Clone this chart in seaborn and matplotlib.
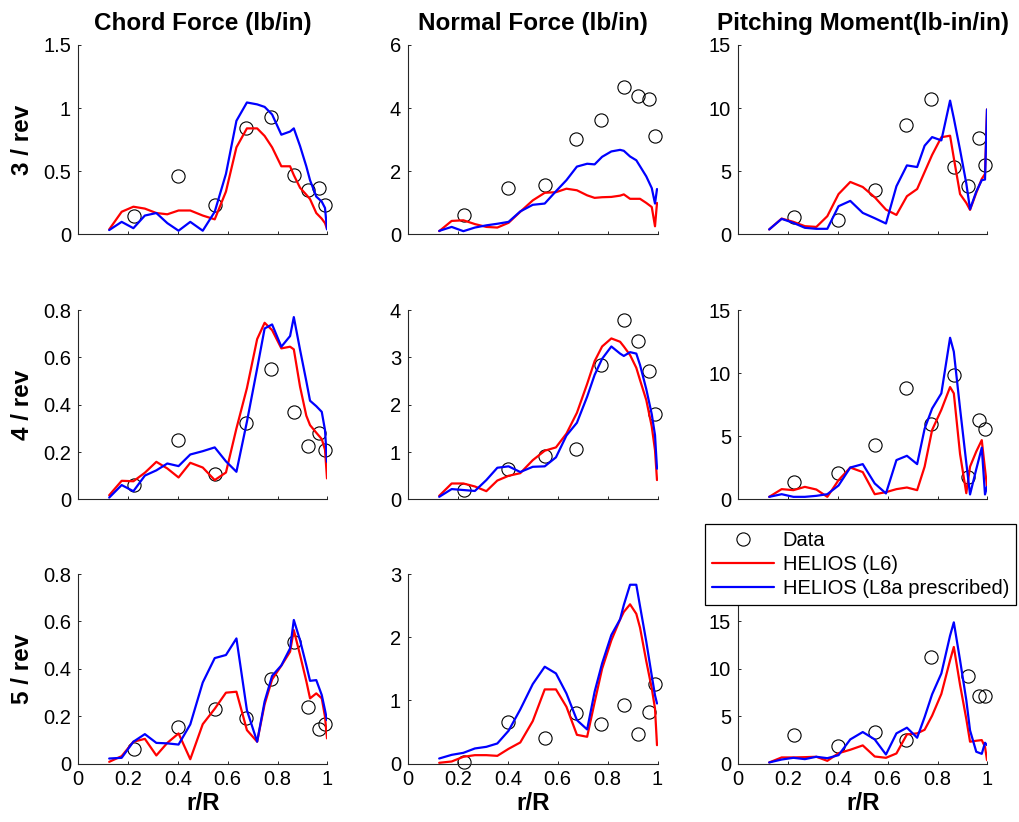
import numpy as np
import matplotlib
matplotlib.use("Agg")
import matplotlib.pyplot as plt
import seaborn as sns
from matplotlib.lines import Line2D
from matplotlib.ticker import FuncFormatter

# ---------------- data ----------------
r_sim = [0.125, 0.175, 0.222, 0.268, 0.314, 0.358, 0.403, 0.450, 0.500, 0.548,
         0.593, 0.635, 0.677, 0.718, 0.748, 0.778, 0.815, 0.850, 0.865, 0.890,
         0.915, 0.930, 0.955, 0.977, 0.990, 0.998]
r_data = [0.225, 0.40, 0.55, 0.675, 0.775, 0.865, 0.92, 0.965, 0.99]

col_titles = ["Chord Force (lb/in)", "Normal Force (lb/in)", "Pitching Moment(lb-in/in)"]
row_labels = ["3 / rev", "4 / rev", "5 / rev"]
legend_labels = ["Data", "HELIOS (L6)", "HELIOS (L8a prescribed)"]

# 3/rev
chord3_data = [0.15, 0.46, 0.23, 0.84, 0.93, 0.47, 0.35, 0.37, 0.23]
chord3_l6 = [0.04, 0.18, 0.22, 0.205, 0.17, 0.16, 0.19, 0.19, 0.15, 0.12, 0.34, 0.69, 0.84,
             0.84, 0.78, 0.69, 0.54, 0.54, 0.47, 0.37, 0.315, 0.28, 0.17, 0.125, 0.09, 0.045]
chord3_l8 = [0.035, 0.10, 0.05, 0.15, 0.17, 0.09, 0.03, 0.10, 0.03, 0.18, 0.48, 0.90, 1.045,
             1.03, 1.01, 0.95, 0.79, 0.815, 0.84, 0.70, 0.54, 0.43, 0.30, 0.26, 0.21, 0.04]
normal3_data = [0.61, 1.48, 1.57, 3.03, 3.64, 4.66, 4.40, 4.29, 3.13]
normal3_l6 = [0.105, 0.43, 0.45, 0.33, 0.24, 0.22, 0.37, 0.72, 1.08, 1.32, 1.34, 1.45, 1.40,
              1.24, 1.16, 1.18, 1.19, 1.23, 1.27, 1.13, 1.13, 1.13, 1.00, 0.87, 0.26, 1.00]
normal3_l8 = [0.115, 0.24, 0.105, 0.22, 0.29, 0.34, 0.40, 0.73, 0.94, 0.98, 1.37, 1.72, 2.15,
              2.24, 2.22, 2.46, 2.63, 2.68, 2.65, 2.47, 2.35, 2.16, 1.84, 1.47, 0.98, 1.44]
pitch3_data = [1.37, 1.18, 3.53, 8.63, 10.74, 5.34, 3.82, 7.63, 5.53]
pitch3_l6 = [0.4, 1.26, 1.0, 0.66, 0.6, 1.45, 3.2, 4.16, 3.76, 2.95, 1.97, 1.55, 3.03,
             3.6, 4.95, 6.3, 7.7, 7.82, 6.05, 3.2, 2.5, 1.95, 3.3, 4.4, 4.8, 9.9]
pitch3_l8 = [0.4, 1.24, 0.92, 0.53, 0.45, 0.45, 2.24, 2.66, 1.71, 1.29, 0.87, 3.82, 5.47,
             5.34, 7.03, 7.71, 7.45, 10.6, 9.2, 6.7, 4.05, 2.0, 3.4, 4.3, 4.35, 9.9]

# 4/rev
chord4_data = [0.061, 0.252, 0.108, 0.325, 0.551, 0.369, 0.225, 0.282, 0.208]
chord4_l6 = [0.018, 0.079, 0.077, 0.113, 0.159, 0.131, 0.093, 0.155, 0.135, 0.082, 0.114, 0.30, 0.47,
             0.677, 0.746, 0.715, 0.638, 0.645, 0.634, 0.476, 0.354, 0.314, 0.282, 0.255, 0.21, 0.089]
chord4_l8 = [0.008, 0.061, 0.035, 0.101, 0.123, 0.152, 0.141, 0.19, 0.204, 0.22, 0.161, 0.117, 0.328,
             0.553, 0.722, 0.739, 0.645, 0.69, 0.77, 0.632, 0.50, 0.417, 0.394, 0.37, 0.293, 0.159]
normal4_data = [0.20, 0.65, 0.92, 1.06, 2.84, 3.79, 3.35, 2.71, 1.80]
normal4_l6 = [0.077, 0.338, 0.338, 0.275, 0.176, 0.40, 0.50, 0.556, 0.83, 1.03, 1.10, 1.39, 1.83,
              2.44, 2.92, 3.23, 3.40, 3.33, 3.23, 3.05, 2.78, 2.52, 2.10, 1.54, 1.04, 0.41]
normal4_l8 = [0.056, 0.22, 0.20, 0.18, 0.41, 0.67, 0.70, 0.58, 0.69, 0.70, 0.89, 1.35, 1.62,
              2.17, 2.63, 2.97, 3.23, 3.08, 3.03, 3.11, 3.08, 2.84, 2.33, 1.80, 1.36, 0.65]
pitch4_data = [1.37, 2.06, 4.28, 8.79, 5.97, 9.85, 1.80, 6.28, 5.57]
pitch4_l6 = [0.21, 0.82, 0.74, 1.0, 0.79, 0.21, 1.53, 2.53, 2.17, 0.42, 0.58, 0.82, 0.95,
             0.74, 2.6, 5.5, 7.1, 8.9, 8.4, 3.6, 0.5, 2.6, 3.8, 4.7, 2.4, 1.05]
pitch4_l8 = [0.21, 0.42, 0.21, 0.21, 0.29, 0.42, 1.11, 2.53, 2.80, 1.27, 0.48, 3.12, 3.46,
             2.80, 5.6, 7.2, 8.4, 12.8, 11.7, 7.2, 2.9, 0.4, 2.4, 4.1, 0.4, 1.0]

# 5/rev
chord5_data = [0.063, 0.152, 0.228, 0.190, 0.355, 0.511, 0.239, 0.145, 0.165]
chord5_l6 = [0.007, 0.031, 0.092, 0.104, 0.034, 0.087, 0.127, 0.018, 0.166, 0.231, 0.299, 0.303, 0.141,
             0.092, 0.25, 0.355, 0.413, 0.472, 0.563, 0.458, 0.348, 0.275, 0.296, 0.275, 0.197, 0.106]
chord5_l8 = [0.021, 0.024, 0.092, 0.124, 0.087, 0.085, 0.080, 0.165, 0.342, 0.445, 0.458, 0.528, 0.225,
             0.092, 0.262, 0.37, 0.414, 0.486, 0.606, 0.52, 0.415, 0.349, 0.352, 0.289, 0.225, 0.183]
normal5_data = [0.016, 0.660, 0.407, 0.792, 0.618, 0.919, 0.465, 0.808, 1.252]
normal5_l6 = [0.011, 0.032, 0.106, 0.132, 0.132, 0.121, 0.232, 0.333, 0.671, 1.173, 1.173, 0.898, 0.454,
              0.423, 0.97, 1.50, 1.95, 2.28, 2.40, 2.52, 2.37, 2.15, 1.62, 1.19, 0.87, 0.29]
normal5_l8 = [0.079, 0.137, 0.169, 0.238, 0.264, 0.317, 0.518, 0.856, 1.257, 1.532, 1.426, 1.109, 0.687,
              0.539, 1.136, 1.585, 2.034, 2.282, 2.51, 2.83, 2.83, 2.49, 1.93, 1.39, 1.08, 0.95]
pitch5_data = [3.0, 1.87, 3.28, 2.47, 11.22, np.nan, 9.28, 7.17, 7.17]
pitch5_l6 = [0.11, 0.64, 0.64, 0.67, 0.71, 0.28, 1.09, 1.45, 1.91, 0.74, 0.60, 1.06, 3.07,
             3.18, 3.56, 5.05, 7.34, 10.9, 12.3, 8.3, 4.7, 2.3, 2.4, 2.47, 1.76, 0.35]
pitch5_l8 = [0.11, 0.42, 0.60, 0.46, 0.71, 0.56, 0.88, 2.54, 3.32, 2.54, 0.95, 3.18, 3.78,
             2.72, 4.9, 7.3, 9.5, 13.5, 14.9, 10.9, 6.7, 3.5, 1.24, 1.02, 2.19, 1.94]

x_ticks = [0, 0.2, 0.4, 0.6, 0.8, 1.0]
y_ticks = [
    [[0, 0.5, 1, 1.5], [0, 2, 4, 6], [0, 5, 10, 15]],
    [[0, 0.2, 0.4, 0.6, 0.8], [0, 1, 2, 3, 4], [0, 5, 10, 15]],
    [[0, 0.2, 0.4, 0.6, 0.8], [0, 1, 2, 3], [0, 5, 10, 15, 20]],
]

panels = [
    [(chord3_data, chord3_l6, chord3_l8), (normal3_data, normal3_l6, normal3_l8), (pitch3_data, pitch3_l6, pitch3_l8)],
    [(chord4_data, chord4_l6, chord4_l8), (normal4_data, normal4_l6, normal4_l8), (pitch4_data, pitch4_l6, pitch4_l8)],
    [(chord5_data, chord5_l6, chord5_l8), (normal5_data, normal5_l6, normal5_l8), (pitch5_data, pitch5_l6, pitch5_l8)],
]

# ---------------- style ----------------
sns.set_theme(style="white")
plt.rcParams['font.family'] = ['Liberation Sans', 'DejaVu Sans']
plt.rcParams['text.color'] = 'black'
plt.rcParams['axes.labelcolor'] = 'black'
plt.rcParams['axes.titlecolor'] = 'black'

RED = '#ff0000'
BLUE = '#0000ff'
AXC = '#262626'

W, H = 1020, 822
fig = plt.figure(figsize=(W / 100, H / 100), dpi=100)

lefts = [78, 408, 738]
tops = [45, 310, 574]
aw, ah = 249.5, 189.5

fmt = FuncFormatter(lambda v, p: f"{v:g}")

for i in range(3):
    for j in range(3):
        ax = fig.add_axes([lefts[j] / W, 1 - (tops[i] + ah) / H, aw / W, ah / H])
        dat, l6, l8 = panels[i][j]
        sns.lineplot(x=r_data, y=dat, ax=ax, color='black', marker='o', linestyle='none',
                     markerfacecolor='none', markeredgecolor='black', markersize=9.5,
                     markeredgewidth=0.8, estimator=None, sort=False, legend=False,
                     clip_on=False)
        sns.lineplot(x=r_sim, y=l6, ax=ax, color=RED, lw=1.6, estimator=None,
                     sort=False, errorbar=None, legend=False)
        sns.lineplot(x=r_sim, y=l8, ax=ax, color=BLUE, lw=1.6, estimator=None,
                     sort=False, errorbar=None, legend=False)
        yt = y_ticks[i][j]
        ax.set_xlim(0, 1)
        ax.set_ylim(yt[0], yt[-1])
        ax.set_xticks(x_ticks)
        ax.set_yticks(yt)
        ax.xaxis.set_major_formatter(fmt)
        ax.yaxis.set_major_formatter(fmt)
        ax.set_xlabel('')
        ax.set_ylabel('')
        for s in ['top', 'right']:
            ax.spines[s].set_visible(False)
        for s in ['left', 'bottom']:
            ax.spines[s].set_color(AXC)
            ax.spines[s].set_linewidth(0.8)
        ax.tick_params(direction='in', length=2.5, width=0.7, color=AXC,
                       labelcolor='black', labelsize=14.5, pad=5,
                       left=True, bottom=True)
        if i < 2:
            ax.tick_params(labelbottom=False)
        if i == 0:
            ax.set_title(col_titles[j], fontsize=17.5, fontweight='bold', pad=11,
                         color='black')
        if i == 2:
            fig.text((lefts[j] + aw / 2) / W, 1 - 803 / H, 'r/R', ha='center', va='center',
                     fontsize=17.5, fontweight='bold', color='black')
    fig.text(23 / W, 1 - (tops[i] + ah / 2) / H, row_labels[i], rotation=90,
             ha='center', va='center', fontsize=17.5, fontweight='bold', color='black')

handles = [
    Line2D([], [], marker='o', linestyle='none', markerfacecolor='none',
           markeredgecolor='black', markersize=9.5, markeredgewidth=0.8),
    Line2D([], [], color=RED, lw=1.6),
    Line2D([], [], color=BLUE, lw=1.6),
]
leg = fig.legend(handles, legend_labels, loc='upper left',
                 bbox_to_anchor=(705 / W, 1 - 524 / H), frameon=True, fancybox=False,
                 edgecolor='black', framealpha=1, fontsize=14.5, borderpad=0.35,
                 labelspacing=0.25, handlelength=3.1, handletextpad=0.4,
                 borderaxespad=0, numpoints=1)
leg.get_frame().set_linewidth(0.9)
for t in leg.get_texts():
    t.set_color('black')

fig.savefig('out.png', dpi=100)
